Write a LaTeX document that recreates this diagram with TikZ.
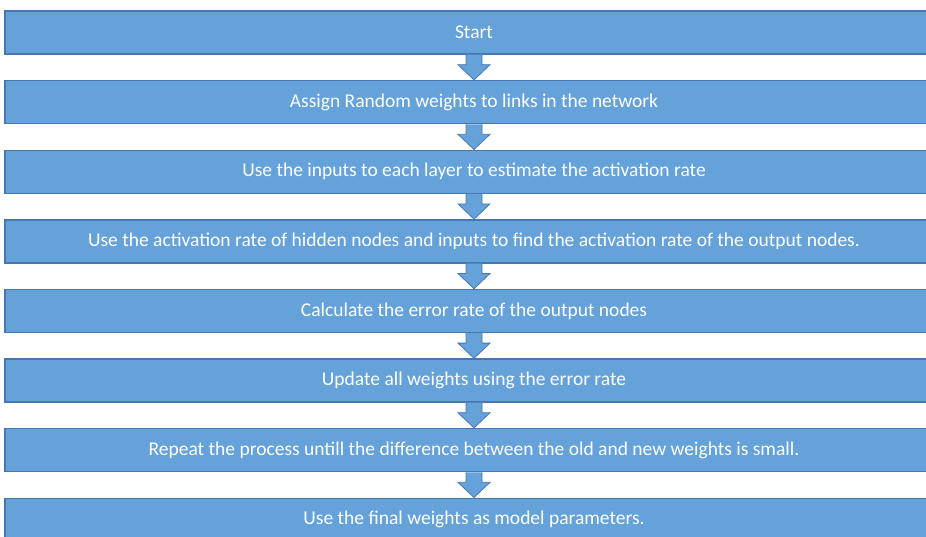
\documentclass[tikz,border=0pt]{standalone}
\usepackage{fontspec}
\setmainfont{Carlito}
\usetikzlibrary{calc}
\definecolor{boxfill}{RGB}{101,162,217}
\definecolor{boxline}{RGB}{70,120,175}
\tikzset{
  stepbox/.style={draw=boxline, line width=1.4pt, fill=boxfill, minimum width=938pt,
    minimum height=43pt, inner sep=0pt, text=white, font=\fontsize{19.5}{22}\selectfont},
  blockarrow/.style={draw=boxline, line width=0.8pt, fill=boxfill, line join=miter}
}
\begin{document}
\begin{tikzpicture}[x=1pt,y=-1pt]
\useasboundingbox (0,0) rectangle (926,536);
\clip (0,0) rectangle (926,536);
\fill[white] (0,0) rectangle (926,536);
\foreach \i/\t in {1/{Start},
  2/{Assign Random weights to links in the network},
  3/{Use the inputs to each layer to estimate the activation rate},
  4/{Use the activation rate of hidden nodes and inputs to find the activation rate of the output nodes.},
  5/{Calculate the error rate of the output nodes},
  6/{Update all weights using the error rate},
  7/{Repeat the process untill the difference between the old and new weights is small.},
  8/{Use the final weights as model parameters.}}
{
  \node[stepbox] (b\i) at (474, {32.5+69.6*(\i-1)}) {\t};
}
\foreach \i [evaluate=\i as \j using int(\i+1)] in {1,...,7}
{
  \draw[blockarrow]
    ($(b\i.south)+(-8,0)$) -- ($(b\i.south)+(-8,10)$) -- ($(b\i.south)+(-16,10)$)
    -- (b\j.north) -- ($(b\i.south)+(16,10)$) -- ($(b\i.south)+(8,10)$)
    -- ($(b\i.south)+(8,0)$);
}
\end{tikzpicture}
\end{document}
